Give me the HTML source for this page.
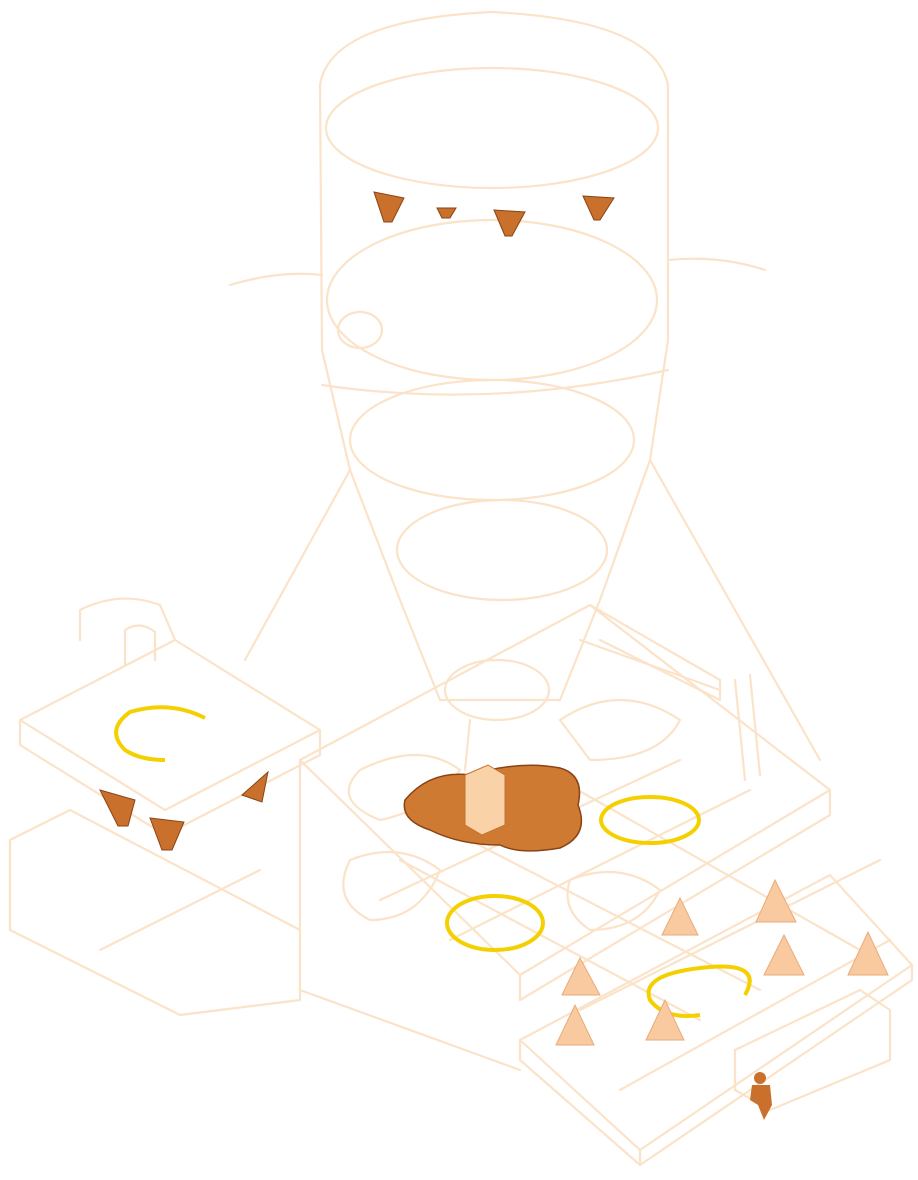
<!DOCTYPE html>
<html><head><meta charset="utf-8"><style>html,body{margin:0;padding:0;background:#fff}svg{display:block}</style></head>
<body>
<svg width="918" height="1180" viewBox="0 0 918 1180" xmlns="http://www.w3.org/2000/svg">
<rect width="918" height="1180" fill="#fff"/>
<g fill="none" stroke="#fbe3c9" stroke-width="2.2" stroke-linejoin="round" stroke-linecap="round">
<!-- tower -->
<path d="M320 85 Q330 20 492 12 Q655 20 668 85 L668 340 L650 460 L600 600 L560 700 L440 700 L400 600 L350 470 L322 350 Z"/>
<ellipse cx="492" cy="128" rx="166" ry="60"/>
<ellipse cx="492" cy="300" rx="165" ry="80"/>
<ellipse cx="492" cy="440" rx="142" ry="60"/>
<ellipse cx="502" cy="550" rx="105" ry="50"/>
<ellipse cx="497" cy="690" rx="52" ry="30"/>
<path d="M322 385 Q492 410 668 370"/>
<path d="M230 285 Q280 270 322 275"/><path d="M668 260 Q720 255 765 270"/>
<ellipse cx="360" cy="330" rx="22" ry="18"/>
<path d="M350 470 L245 660"/><path d="M650 460 L820 760"/>
<path d="M470 720 L465 770"/>
<!-- left platform -->
<path d="M20 720 L175 640 L320 730 L165 810 Z"/>
<path d="M20 720 L20 745 L165 835 L320 755 L320 730"/>
<path d="M80 640 L80 610 Q120 590 160 605 L175 640"/>
<path d="M125 665 L125 630 Q140 620 155 632 L155 660"/>
<path d="M10 840 L70 810 L300 930 L300 1000 L180 1015 L10 930 Z"/>
<path d="M10 840 L10 930"/><path d="M100 950 L260 870"/>
<!-- main floor -->
<path d="M300 760 L590 605 L830 790 L520 975 Z"/>
<path d="M590 605 L720 680 L720 700 L600 640"/>
<path d="M580 640 L720 690"/>
<path d="M735 680 L745 780"/><path d="M750 675 L760 775"/>
<path d="M520 975 L520 1000 L830 815 L830 790"/>
<path d="M300 760 L300 990 L520 1070"/>
<path d="M360 770 Q420 740 460 770 Q430 810 380 820 Q330 800 360 770"/>
<path d="M560 720 Q620 680 680 720 Q660 760 590 760 Z"/>
<path d="M350 860 Q400 840 440 870 Q420 920 370 920 Q330 900 350 860"/>
<path d="M570 880 Q620 860 660 890 Q640 930 590 930 Q560 910 570 880"/>
<!-- lower wing -->
<path d="M520 1040 L830 875 L912 965 L640 1150 Z"/>
<path d="M640 1150 L640 1165 L912 980 L912 965"/>
<path d="M520 1040 L520 1060 L640 1165"/>
<path d="M735 1050 L860 990 L890 1010 L890 1060 L770 1110 L735 1090 Z"/>
<path d="M735 1050 L735 1090"/>
<path d="M400 860 L700 1020"/><path d="M450 830 L760 990"/><path d="M560 780 L860 950"/>
<path d="M380 900 L680 760"/><path d="M450 940 L750 790"/><path d="M580 1010 L880 860"/><path d="M620 1090 L890 940"/>
</g>
<!-- stalactites -->
<g fill="#c8702c" stroke="#8a4316" stroke-width="1">
<path d="M374 192 L404 198 L392 222 L384 222 Z"/>
<path d="M437 208 L456 208 L450 218 L442 218 Z"/>
<path d="M494 210 L525 212 L512 236 L505 236 Z"/>
<path d="M583 196 L614 198 L600 220 L594 220 Z"/>
<path d="M100 790 L135 800 L128 826 L118 826 Z"/>
<path d="M150 818 L184 822 L172 850 L162 850 Z"/>
<path d="M242 795 L268 772 L262 802 Z"/>
</g>
<!-- dragon -->
<g fill="#cf7a32" stroke="#8a4316" stroke-width="1.5">
<path d="M405 800 Q430 770 470 775 Q520 760 560 768 Q585 775 578 805 Q590 835 560 848 Q520 855 500 845 Q460 845 430 830 Q400 820 405 800 Z"/>
</g>
<g fill="#f9d2a8" stroke="#c8702c" stroke-width="1"><path d="M465 775 L488 765 L505 775 L505 825 L482 835 L465 825 Z"/></g>
<!-- rings -->
<g fill="none" stroke="#f5d000" stroke-width="4">
<path d="M205 718 Q170 700 130 712 Q105 730 125 750 Q140 760 165 760"/>
<ellipse cx="650" cy="820" rx="49" ry="23"/>
<ellipse cx="495" cy="923" rx="48" ry="27"/>
<path d="M745 995 Q765 960 700 968 Q640 975 650 1000 Q665 1020 700 1015"/>
</g>
<!-- cones -->
<g fill="#f9c9a0" stroke="#e9ab7a" stroke-width="1">
<path d="M662 935 L680 898 L698 935 Z"/>
<path d="M756 922 L775 880 L796 922 Z"/>
<path d="M764 975 L784 935 L804 975 Z"/>
<path d="M848 975 L868 932 L888 975 Z"/>
<path d="M562 995 L580 958 L600 995 Z"/>
<path d="M556 1045 L575 1005 L594 1045 Z"/>
<path d="M646 1040 L665 1000 L684 1040 Z"/>
</g>
<g fill="#c8702c"><circle cx="760" cy="1078" r="6"/><path d="M752 1085 L770 1085 L772 1105 L764 1120 L758 1105 L750 1100 Z"/></g>
</svg>
</body></html>
